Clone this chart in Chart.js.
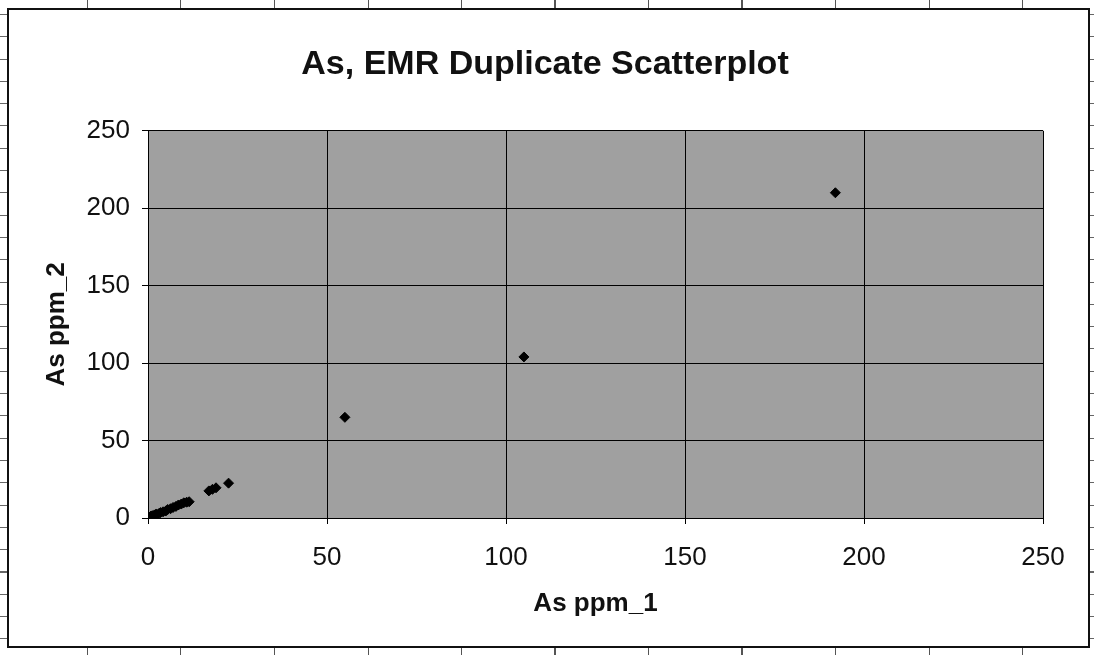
<!DOCTYPE html>
<html>
<head>
<meta charset="utf-8">
<script src="https://cdn.jsdelivr.net/npm/chart.js@4/dist/chart.umd.min.js"></script>
<style>
  html, body { margin: 0; padding: 0; }
  body {
    width: 1094px; height: 655px; overflow: hidden; position: relative;
    background-color: #fff;
    background-image:
      repeating-linear-gradient(to right, transparent 0px, transparent 87px, #555 87px, #555 88px, transparent 88px, transparent 93.5px),
      repeating-linear-gradient(to bottom, transparent 0px, transparent 14px, #666 14px, #666 15px, transparent 15px, transparent 22.3px);
  }
  #frame {
    position: absolute; left: 7px; top: 8px; width: 1083px; height: 640px;
    box-sizing: border-box; border: 2px solid #111; background: #fff;
  }
  #chart { position: absolute; left: 0; top: 0; }
</style>
</head>
<body>
<div id="frame"></div>
<canvas id="chart" width="1094" height="655"></canvas>
<script>
// As ppm_1 (x) vs As ppm_2 (y)
const asPpm1 = [0.8, 1.2, 1.8, 2.3, 3.0, 3.5, 4.2, 5.0, 5.5, 6.3, 7.0, 7.8, 8.5, 9.3, 10.0, 10.8, 11.5, 17.0, 18.0, 19.0, 22.5, 55, 105, 192];
const asPpm2 = [1.2, 1.5, 2.0, 2.6, 2.8, 3.5, 4.0, 4.6, 5.5, 6.0, 6.8, 7.5, 8.4, 9.0, 9.8, 10.2, 10.5, 17.5, 18.5, 19.5, 22.5, 65, 104, 210];
const axisTicks = [0, 50, 100, 150, 200, 250];

const fontFamily = "'Liberation Sans', Arial, sans-serif";

const plotBg = {
    id: 'plotBg',
    beforeDraw(chart) {
        const { ctx, chartArea: a } = chart;
        ctx.save();
        ctx.fillStyle = '#a0a0a0';
        ctx.fillRect(a.left, a.top, a.right - a.left, a.bottom - a.top);
        ctx.restore();
    }
};

function setTicks(scale) {
    scale.ticks = axisTicks.map(v => ({ value: v }));
}

const ctx = document.getElementById('chart').getContext('2d');
new Chart(ctx, {
    type: 'scatter',
    data: {
        datasets: [{
            label: 'As',
            data: asPpm1.map((x, i) => ({ x: x, y: asPpm2[i] })),
            pointStyle: 'rectRot',
            pointRadius: 5,
            backgroundColor: '#000',
            borderColor: '#000',
            borderWidth: 1
        }]
    },
    options: {
        responsive: false,
        animation: false,
        // left padding only there to centre the title like the original
        layout: { padding: { left: 47, right: 51, top: 0, bottom: 0 } },
        plugins: {
            legend: { display: false },
            tooltip: { enabled: false },
            title: {
                display: true,
                text: 'As, EMR Duplicate Scatterplot',
                color: '#111',
                font: { family: fontFamily, size: 34, weight: 'bold' },
                padding: { top: 44, bottom: 46 }
            }
        },
        scales: {
            x: {
                type: 'linear',
                min: 0, max: 250,
                afterBuildTicks: setTicks,
                afterFit(scale) { scale.height = 137; },
                grid: { color: '#000', lineWidth: 1, tickLength: 6 },
                border: { color: '#000', width: 1 },
                ticks: { color: '#111', padding: 18, font: { family: fontFamily, size: 26 } },
                title: {
                    display: true, text: 'As ppm_1', color: '#111',
                    font: { family: fontFamily, size: 26, weight: 'bold' },
                    padding: { top: 0, bottom: 36 }
                }
            },
            y: {
                type: 'linear',
                min: 0, max: 250,
                afterBuildTicks: setTicks,
                afterFit(scale) { scale.width = 101; },
                grid: { color: '#000', lineWidth: 1, tickLength: 6 },
                border: { color: '#000', width: 1 },
                ticks: { color: '#111', padding: 12, font: { family: fontFamily, size: 26 } },
                title: {
                    display: true, text: 'As ppm_2', color: '#111',
                    font: { family: fontFamily, size: 26, weight: 'bold' },
                    padding: { top: -6, bottom: 0 }
                }
            }
        }
    },
    plugins: [plotBg]
});
</script>
</body>
</html>
